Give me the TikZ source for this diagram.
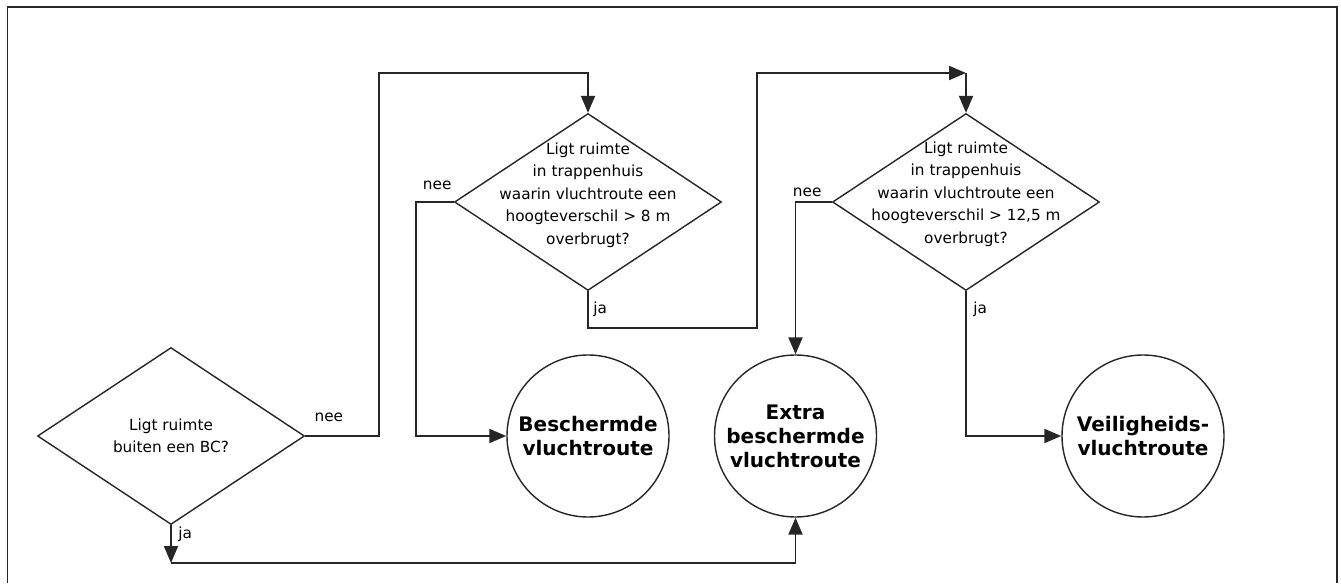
\documentclass[tikz,border=0pt]{standalone}
\usepackage{fontspec}
\setmainfont{DejaVu Sans}
\usetikzlibrary{arrows.meta,shapes.geometric}

\begin{document}
\begin{tikzpicture}[
    >={Triangle[length=0.34cm, width=0.28cm]},
    question/.style={
        shape=diamond, draw=black!85, line width=0.8pt,
        minimum width=5.34cm, minimum height=3.54cm, inner sep=0pt,
    },
    qtext/.style={
        font=\fontsize{8.7}{12.8}\selectfont, align=center, inner sep=0pt,
    },
    outcome/.style={
        shape=circle, draw=black!85, line width=0.8pt,
        minimum size=3.24cm, inner sep=0pt, align=center,
        font=\fontsize{11.4}{13.7}\selectfont\bfseries,
    },
    flow/.style={->, draw=black!85, line width=1.1pt},
    answer/.style={font=\fontsize{8.7}{10}\selectfont, inner sep=0pt},
]
\useasboundingbox (0,0) rectangle (26.82,11.66);

% ── Frame (open at the bottom) ──────────────────────────────
\draw[black!85, line width=1.1pt] (0.15,0) -- (0.15,11.52) -- (26.74,11.52) -- (26.74,0);

% ── Questions ───────────────────────────────────────────────
\node[question] (q1) at (3.42, 2.94) {};
\node[qtext] (q1txt) at (q1) {Ligt ruimte\\buiten een BC?};

\node[question] (q2) at (11.76, 7.62) {};
\node[qtext] (q2txt) at ([yshift=0.14cm]q2)
    {Ligt ruimte\\in trappenhuis\\waarin vluchtroute een\\hoogteverschil > 8 m\\overbrugt?};

\node[question] (q3) at (19.32, 7.62) {};
\node[qtext] (q3txt) at ([yshift=0.16cm]q3)
    {Ligt ruimte\\in trappenhuis\\waarin vluchtroute een\\hoogteverschil > 12,5 m\\overbrugt?};

% ── Outcomes ────────────────────────────────────────────────
\node[outcome] (beschermd) at (11.76, 2.94) {Beschermde\\vluchtroute};
\node[outcome] (extra) at (15.91, 2.94) {Extra\\beschermde\\vluchtroute};
\node[outcome] (veilig) at (22.86, 2.94) {Veiligheids-\\vluchtroute};

% ── Bends ───────────────────────────────────────────────────
\coordinate (k1) at (7.58, 10.2);
\coordinate (k2) at (8.32, 7.62);
\coordinate (k3) at (15.14, 5.1);
\coordinate (k4) at (19.32, 10.2);
\coordinate (k5) at (3.42, 0.4);

% ── Connectors ──────────────────────────────────────────────
\draw[flow] (q1.east) -| (k1) -| (q2.north);
\draw[flow] (q1.south) -- (k5);
\draw[flow] (k5) -| (extra.south);

\draw[flow] (q2.west) -- (k2) |- (beschermd.west);
\draw[flow] (q2.south) |- (k3) |- (k4);
\draw[flow] (k4) -- (q3.north);

\draw[flow] (q3.west) -| (extra.north);
\draw[flow] (q3.south) |- (veilig.west);

% ── Answers ─────────────────────────────────────────────────
\node[answer, anchor=base west] (nee1) at ([xshift=0.18cm, yshift=0.28cm]q1.east) {nee};
\node[answer, anchor=base west] (ja1) at ([xshift=0.14cm, yshift=-0.26cm]q1.south) {ja};
\node[answer, anchor=base east] (nee2) at ([xshift=-0.04cm, yshift=0.24cm]q2.west) {nee};
\node[answer, anchor=base west] (ja2) at ([xshift=0.1cm, yshift=-0.44cm]q2.south) {ja};
\node[answer, anchor=base east] (nee3) at ([xshift=-0.2cm, yshift=0.1cm]q3.west) {nee};
\node[answer, anchor=base west] (ja3) at ([xshift=0.14cm, yshift=-0.44cm]q3.south) {ja};

\end{tikzpicture}
\end{document}
